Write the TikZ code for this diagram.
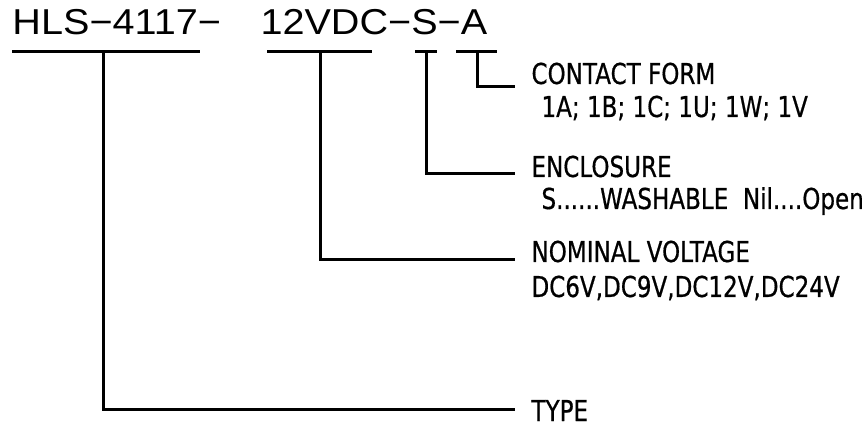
\documentclass[tikz,border=0pt]{standalone}
\usepackage{fontspec}
\setmainfont{Liberation Sans}[FakeStretch=1.1]
\newfontfamily\lblfont{DejaVu Sans}[FakeStretch=0.8,FakeBold=0.6]
\begin{document}
\begin{tikzpicture}[x=1pt,y=-1pt,line width=3pt,
  lab/.style={anchor=base west,inner sep=0pt,font=\lblfont\fontsize{28.8}{30}\selectfont},
  codetxt/.style={anchor=base west,inner sep=0pt,font=\fontsize{36}{38}\selectfont},
  bar/.style={line width=3pt},
  lead/.style={line width=3pt}]
\useasboundingbox[fill=white] (0,0) rectangle (865,427);
% code text
\node[codetxt] (code1) at (11,35) {HLS−4117−};
\node[codetxt] (code2) at (259,35) {12VDC−S−A};
% underline bars
\coordinate (t1) at (103,52);
\coordinate (t2) at (320,52);
\coordinate (t3) at (426,52);
\coordinate (t4) at (477,52);
\draw[bar] (12,52) -- (200,52);
\draw[bar] (267,52) -- (372,52);
\draw[bar] (415,52) -- (437,52);
\draw[bar] (456,52) -- (497,52);
% labels
\node[lab] (contact) at (530,84) {CONTACT FORM};
\node[lab] (contactv) at (540,117) {1A; 1B; 1C; 1U; 1W; 1V};
\node[lab] (encl) at (530,177) {ENCLOSURE};
\node[lab] (enclv) at (540,209) {S......WASHABLE\ \ Nil....Open};
\node[lab] (volt) at (530,262) {NOMINAL VOLTAGE};
\node[lab] (voltv) at (530,297) {DC6V,DC9V,DC12V,DC24V};
\node[lab] (type) at (530,421) {TYPE};
% leader ends
\coordinate (e4) at (515,87);
\coordinate (e3) at (515,174);
\coordinate (e2) at (515,260);
\coordinate (e1) at (515,410);
\draw[lead] (t4) |- (e4);
\draw[lead] (t3) |- (e3);
\draw[lead] (t2) |- (e2);
\draw[lead] (t1) |- (e1);
\end{tikzpicture}
\end{document}
